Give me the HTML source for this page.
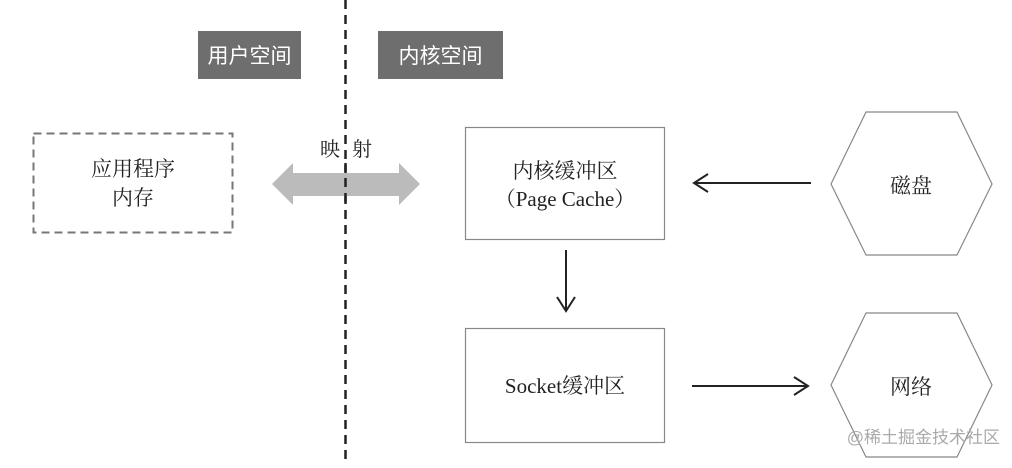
<!DOCTYPE html><html><head><meta charset="utf-8"><style>body{margin:0;background:#fff}</style></head><body>
<svg width="1012" height="463" xmlns="http://www.w3.org/2000/svg" font-family="Liberation Serif, Noto Serif CJK SC, serif">
<line x1="345.5" y1="0" x2="345.5" y2="463" stroke="#222" stroke-width="2.5" stroke-dasharray="9,6"/>
<rect x="198" y="31" width="103" height="48" fill="#6e6e6e"/>
<text x="249.5" y="63" font-size="21" fill="#fff" text-anchor="middle" font-family="Noto Sans CJK SC, sans-serif">用户空间</text>
<rect x="378" y="31" width="125" height="48" fill="#6e6e6e"/>
<text x="440.5" y="63" font-size="21" fill="#fff" text-anchor="middle" font-family="Noto Sans CJK SC, sans-serif">内核空间</text>
<rect x="33.5" y="133.5" width="199" height="99" fill="none" stroke="#777" stroke-width="2" stroke-dasharray="8,5"/>
<text x="133" y="176" font-size="21" text-anchor="middle" fill="#222">应用程序</text>
<text x="133" y="205" font-size="21" text-anchor="middle" fill="#222">内存</text>
<text x="330" y="156" font-size="20" text-anchor="middle" fill="#222">映</text>
<text x="362" y="156" font-size="20" text-anchor="middle" fill="#222">射</text>
<polygon points="272,184 293,163 293,173 399,173 399,163 420,184 399,205 399,196 293,196 293,205" fill="#bbb"/>
<line x1="345.5" y1="163" x2="345.5" y2="205" stroke="#222" stroke-width="2.5" stroke-dasharray="9,6"/>
<rect x="465.5" y="127.5" width="199" height="112" fill="#fff" stroke="#888" stroke-width="1.2"/>
<text x="565" y="178" font-size="21" text-anchor="middle" fill="#222">内核缓冲区</text>
<text x="565" y="206" font-size="21" text-anchor="middle" fill="#222">（Page Cache）</text>
<rect x="465.5" y="328.5" width="199" height="114" fill="#fff" stroke="#888" stroke-width="1.2"/>
<text x="565" y="393" font-size="21" text-anchor="middle" fill="#222">Socket缓冲区</text>
<polygon points="831,184 866,112 957,112 992,184 957,255 866,255" fill="#fff" stroke="#888" stroke-width="1.2"/>
<text x="911" y="193" font-size="21" text-anchor="middle" fill="#222">磁盘</text>
<polygon points="831,385 866,313 957,313 992,385 957,457 866,457" fill="#fff" stroke="#888" stroke-width="1.2"/>
<text x="911" y="394" font-size="21" text-anchor="middle" fill="#222">网络</text>
<g stroke="#222" stroke-width="2" fill="none">
<line x1="811" y1="183" x2="694" y2="183"/><polyline points="708,174 694,183 708,192"/>
<line x1="566" y1="250" x2="566" y2="311"/><polyline points="557,297 566,311 575,297"/>
<line x1="692" y1="386" x2="808" y2="386"/><polyline points="794,377 808,386 794,395"/>
</g>
<text x="1000" y="443" font-size="17" text-anchor="end" fill="#aaa" font-family="Liberation Sans, Noto Sans CJK SC, sans-serif">@稀土掘金技术社区</text>
</svg>
</body></html>
